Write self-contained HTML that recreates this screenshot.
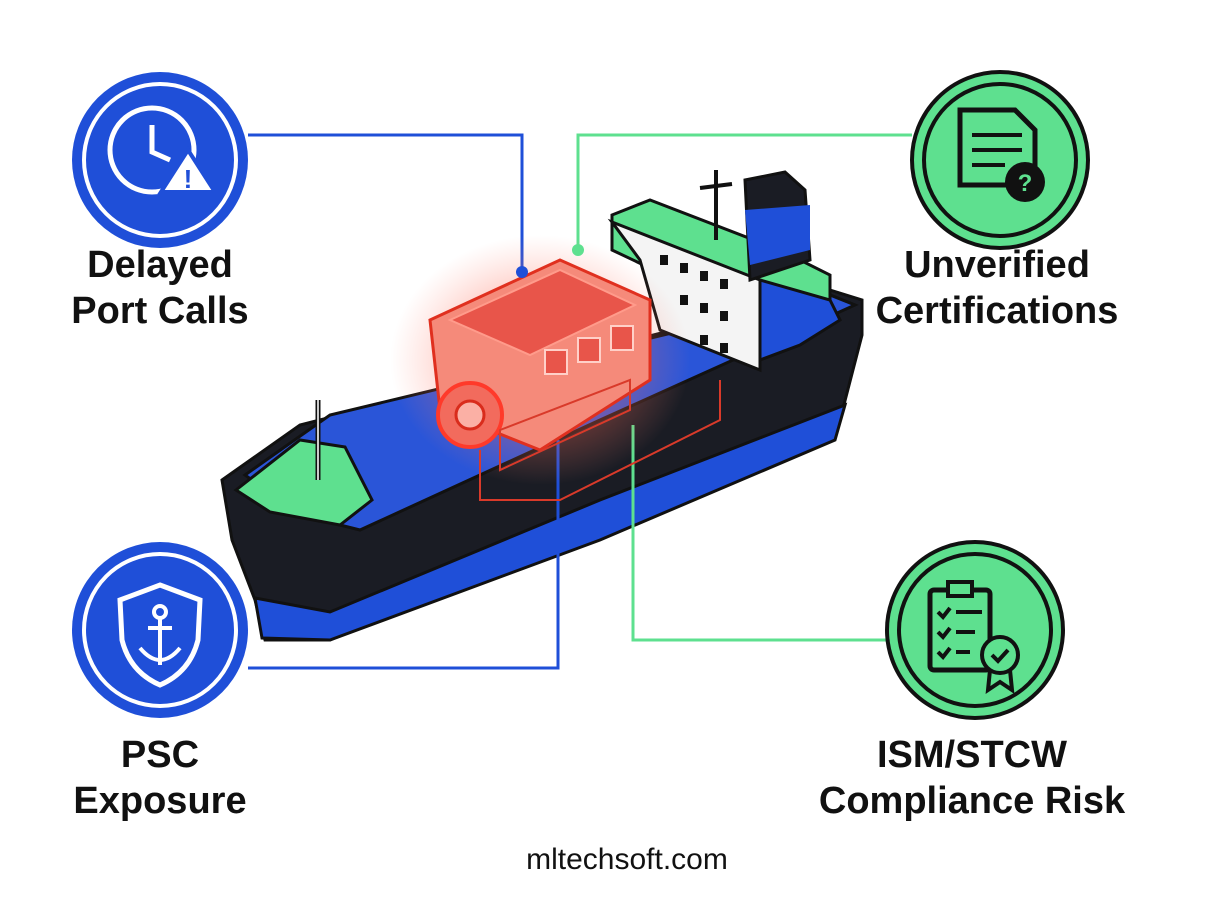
<!DOCTYPE html>
<html><head><meta charset="utf-8"><style>
html,body{margin:0;padding:0;background:#fff;}
body{width:1226px;height:908px;position:relative;overflow:hidden;font-family:"Liberation Sans",sans-serif;}
.lbl{position:absolute;font-weight:bold;font-size:38px;line-height:46px;color:#111;text-align:center;width:400px;}
</style></head><body>
<svg width="1226" height="908" style="position:absolute;left:0;top:0">
<defs>
<radialGradient id="glow" cx="50%" cy="50%" r="50%">
<stop offset="0%" stop-color="#ff3a2a" stop-opacity="0.55"/>
<stop offset="60%" stop-color="#ff6a55" stop-opacity="0.3"/>
<stop offset="100%" stop-color="#ff8a7a" stop-opacity="0"/>
</radialGradient>
</defs>
<g fill="none" stroke-width="3">
<polyline points="248,135 522,135 522,272" stroke="#1f4fd8"/>
<polyline points="912,135 578,135 578,250" stroke="#5ee08f"/>
</g>
<!-- hull -->
<polygon points="222,480 300,425 830,290 862,300 862,335 840,420 600,520 330,640 265,640 255,600 232,540" fill="#1a1c24" stroke="#111" stroke-width="3"/>
<polygon points="255,598 330,612 600,500 845,405 835,440 600,540 330,640 262,638" fill="#1f4fd8" stroke="#111" stroke-width="3"/>
<polygon points="245,475 330,415 830,295 855,305 600,420 360,530 300,515" fill="#2a55d8" stroke="#111" stroke-width="3"/>
<polygon points="236,490 300,440 345,447 372,500 340,525 270,512" fill="#5ee08f" stroke="#111" stroke-width="3"/>
<line x1="318" y1="400" x2="318" y2="480" stroke="#111" stroke-width="5"/>
<line x1="318" y1="400" x2="318" y2="480" stroke="#ccc" stroke-width="2"/>
<g fill="none" stroke-width="3">
<polyline points="248,668 558,668 558,440" stroke="#1f4fd8"/>
<polyline points="886,640 633,640 633,425" stroke="#5ee08f"/>
</g>
<!-- superstructure -->
<polygon points="612,215 650,200 780,250 830,275 830,300 770,325 612,250" fill="#5ee08f" stroke="#111" stroke-width="3"/>
<polygon points="612,222 760,280 760,370 660,330 640,260" fill="#f4f4f4" stroke="#111" stroke-width="3"/>
<polygon points="760,280 830,300 840,320 800,345 760,360" fill="#1f4fd8" stroke="#111" stroke-width="3"/>
<polygon points="745,180 785,172 805,190 810,260 750,280" fill="#1a1c24" stroke="#111" stroke-width="3"/>
<polygon points="745,210 810,205 810,250 750,265" fill="#1f4fd8"/>
<line x1="716" y1="170" x2="716" y2="240" stroke="#111" stroke-width="4"/>
<line x1="700" y1="188" x2="732" y2="184" stroke="#111" stroke-width="4"/>
<g fill="#111">
<rect x="660" y="255" width="8" height="10"/><rect x="680" y="263" width="8" height="10"/><rect x="700" y="271" width="8" height="10"/><rect x="720" y="279" width="8" height="10"/>
<rect x="680" y="295" width="8" height="10"/><rect x="700" y="303" width="8" height="10"/><rect x="720" y="311" width="8" height="10"/>
<rect x="700" y="335" width="8" height="10"/><rect x="720" y="343" width="8" height="10"/>
</g>
<!-- engine -->
<ellipse cx="540" cy="360" rx="150" ry="125" fill="url(#glow)"/>
<polygon points="430,320 560,260 650,300 650,380 540,450 440,410" fill="#f58a7a" stroke="#e0301f" stroke-width="3"/>
<polygon points="450,320 560,270 635,305 530,355" fill="#e8554a" stroke="#ff9b8b" stroke-width="2"/>
<circle cx="470" cy="415" r="32" fill="#f26b5d" stroke="#ff3a2a" stroke-width="4"/>
<circle cx="470" cy="415" r="14" fill="#fbb0a5" stroke="#d92c1c" stroke-width="3"/>
<g fill="#e8554a" stroke="#ffd0c8" stroke-width="2">
<rect x="545" y="350" width="22" height="24"/><rect x="578" y="338" width="22" height="24"/><rect x="611" y="326" width="22" height="24"/>
</g>
<polygon points="500,430 500,470 630,410 630,380" fill="none" stroke="#d93a2a" stroke-width="2"/>
<polyline points="480,450 480,500 560,500 720,420 720,380" fill="none" stroke="#d93a2a" stroke-width="2"/>
<circle cx="522" cy="272" r="6" fill="#1f4fd8"/>
<circle cx="578" cy="250" r="6" fill="#5ee08f"/>
<!-- icon circles -->
<circle cx="160" cy="160" r="88" fill="#1f4fd8"/>
<circle cx="160" cy="160" r="76" fill="none" stroke="#fff" stroke-width="4"/>
<circle cx="152" cy="150" r="42" fill="none" stroke="#fff" stroke-width="5"/>
<polyline points="152,125 152,152 170,160" fill="none" stroke="#fff" stroke-width="5"/>
<polygon points="188,150 215,192 161,192" fill="#fff" stroke="#1f4fd8" stroke-width="4"/>
<text x="188" y="188" font-size="26" font-weight="bold" text-anchor="middle" fill="#1f4fd8" font-family="Liberation Sans">!</text>

<circle cx="1000" cy="160" r="88" fill="#5ee08f" stroke="#111" stroke-width="4"/>
<circle cx="1000" cy="160" r="76" fill="none" stroke="#111" stroke-width="4"/>
<polygon points="960,110 1015,110 1035,130 1035,185 960,185" fill="none" stroke="#111" stroke-width="5"/>
<line x1="972" y1="135" x2="1022" y2="135" stroke="#111" stroke-width="4"/>
<line x1="972" y1="150" x2="1022" y2="150" stroke="#111" stroke-width="4"/>
<line x1="972" y1="165" x2="1005" y2="165" stroke="#111" stroke-width="4"/>
<circle cx="1025" cy="182" r="20" fill="#111"/>
<text x="1025" y="191" font-size="24" font-weight="bold" text-anchor="middle" fill="#5ee08f" font-family="Liberation Sans">?</text>

<circle cx="160" cy="630" r="88" fill="#1f4fd8"/>
<circle cx="160" cy="630" r="76" fill="none" stroke="#fff" stroke-width="4"/>
<path d="M160,585 L200,600 L198,640 Q190,672 160,685 Q130,672 122,640 L120,600 Z" fill="none" stroke="#fff" stroke-width="5"/>
<circle cx="160" cy="612" r="6" fill="none" stroke="#fff" stroke-width="4"/>
<line x1="160" y1="618" x2="160" y2="665" stroke="#fff" stroke-width="4"/>
<line x1="148" y1="628" x2="172" y2="628" stroke="#fff" stroke-width="4"/>
<path d="M140,648 Q160,672 180,648" fill="none" stroke="#fff" stroke-width="4"/>

<circle cx="975" cy="630" r="88" fill="#5ee08f" stroke="#111" stroke-width="4"/>
<circle cx="975" cy="630" r="76" fill="none" stroke="#111" stroke-width="4"/>
<rect x="930" y="590" width="60" height="80" rx="4" fill="none" stroke="#111" stroke-width="5"/>
<rect x="948" y="582" width="24" height="14" fill="#5ee08f" stroke="#111" stroke-width="4"/>
<g stroke="#111" stroke-width="4" fill="none">
<polyline points="938,612 943,617 950,608"/><line x1="956" y1="612" x2="982" y2="612"/>
<polyline points="938,632 943,637 950,628"/><line x1="956" y1="632" x2="975" y2="632"/>
<polyline points="938,652 943,657 950,648"/><line x1="956" y1="652" x2="970" y2="652"/>
</g>
<circle cx="1000" cy="655" r="18" fill="#5ee08f" stroke="#111" stroke-width="4"/>
<polyline points="992,655 998,661 1008,650" fill="none" stroke="#111" stroke-width="4"/>
<polyline points="990,670 988,690 1000,682 1012,690 1010,670" fill="none" stroke="#111" stroke-width="4"/>
</svg>
<div class="lbl" style="left:-40px;top:242px">Delayed<br>Port Calls</div>
<div class="lbl" style="left:797px;top:242px">Unverified<br>Certifications</div>
<div class="lbl" style="left:-40px;top:732px">PSC<br>Exposure</div>
<div class="lbl" style="left:772px;top:732px">ISM/STCW<br>Compliance Risk</div>
<div style="position:absolute;left:0;width:1254px;top:843px;text-align:center;font-size:30px;color:#111">mltechsoft.com</div>
</body></html>
